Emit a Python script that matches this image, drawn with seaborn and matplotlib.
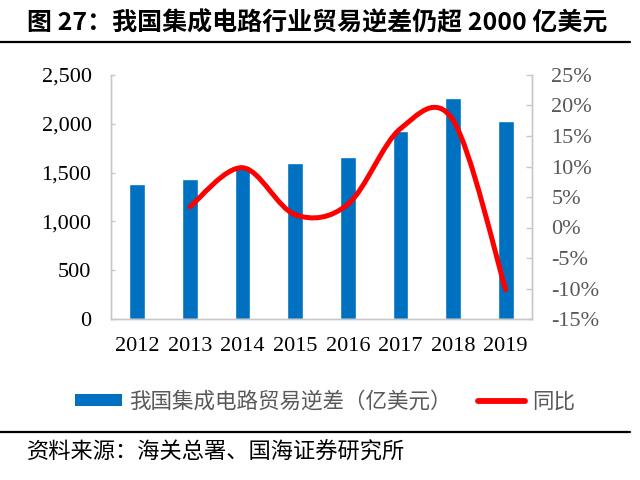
import matplotlib
matplotlib.use('Agg')
import matplotlib.pyplot as plt
import seaborn as sns
import pandas as pd
from matplotlib.path import Path
from matplotlib.patches import PathPatch, Patch
from matplotlib.lines import Line2D
from matplotlib.ticker import FuncFormatter, MultipleLocator

# data
years = ['2012', '2013', '2014', '2015', '2016', '2017', '2018', '2019']
deficit = [1383, 1431, 1568, 1601, 1660, 1926, 2261, 2029]   # 亿美元
yoy_years = ['2013', '2014', '2015', '2016', '2017', '2018', '2019']
yoy = [3.4, 9.8, 2.1, 3.8, 16.2, 17.6, -10.2]                 # %

BLUE = '#0070C0'
RED = '#FF0000'
SPINE = '#C8C8C8'
CJK = ['Noto Sans CJK SC', 'DejaVu Sans']

sns.set_theme(style='white')
plt.rcParams['font.family'] = ['Liberation Serif', 'Noto Sans CJK SC']

df = pd.DataFrame({'year': years, 'deficit': deficit})

fig = plt.figure(figsize=(6.4, 4.8), dpi=100)
ax = fig.add_axes([111 / 640, 1 - 319 / 480, (532 - 111) / 640, (319 - 75) / 480])
sns.barplot(data=df, x='year', y='deficit', color=BLUE, width=0.3, saturation=1, ax=ax)
ax.set_xlim(-0.5, 7.5)
ax.set_ylim(0, 2500)
ax.yaxis.set_major_locator(MultipleLocator(500))
ax.yaxis.set_major_formatter(FuncFormatter(lambda v, p: f'{v:,.0f}'))
ax.set_xlabel('')
ax.set_ylabel('')
ax.tick_params(axis='y', direction='in', length=3, width=1, color=SPINE,
               pad=14, labelsize=16, labelcolor='black')
ax.tick_params(axis='x', length=0, pad=13, labelsize=16, labelcolor='black')

ax2 = ax.twinx()
ax2.set_ylim(-15, 25)
ax2.yaxis.set_major_locator(MultipleLocator(5))
ax2.yaxis.set_major_formatter(FuncFormatter(lambda v, p: f'{v:.0f}%'))
ax2.tick_params(axis='y', direction='in', length=4, width=1, color=SPINE,
                pad=14, labelsize=16, labelcolor='#595959')

for a in (ax, ax2):
    a.spines['top'].set_visible(False)
    for s in ('left', 'right', 'bottom'):
        a.spines[s].set_color(SPINE)
        a.spines[s].set_linewidth(1)

# smoothed yoy line (Excel style Catmull-Rom bezier through the points)
xpos = [years.index(y) for y in yoy_years]
pts = list(zip(xpos, yoy))
verts = [pts[0]]
codes = [Path.MOVETO]
n = len(pts)
for i in range(n - 1):
    p0 = pts[max(i - 1, 0)]
    p1 = pts[i]
    p2 = pts[i + 1]
    p3 = pts[min(i + 2, n - 1)]
    c1 = (p1[0] + (p2[0] - p0[0]) / 6, p1[1] + (p2[1] - p0[1]) / 6)
    c2 = (p2[0] - (p3[0] - p1[0]) / 6, p2[1] - (p3[1] - p1[1]) / 6)
    verts += [c1, c2, p2]
    codes += [Path.CURVE4] * 3
ax2.add_patch(PathPatch(Path(verts, codes), facecolor='none', edgecolor=RED,
                        lw=3.6, capstyle='round', joinstyle='round'))

# title and rules
fig.text(27 / 640, 1 - 23 / 480, '图 27：我国集成电路行业贸易逆差仍超 2000 亿美元',
         family=CJK, fontsize=18, fontweight='bold', va='center', ha='left', color='black')
fig.add_artist(Line2D([0, 630 / 640], [1 - 42 / 480] * 2, color='black', lw=1.6))
fig.add_artist(Line2D([0, 630 / 640], [1 - 432 / 480] * 2, color='black', lw=1.6))

handles = [Patch(facecolor=BLUE, edgecolor='none'),
           Line2D([0], [0], color=RED, lw=4.2, solid_capstyle='round')]
labels = ['我国集成电路贸易逆差（亿美元）', '同比']
leg = fig.legend(handles, labels, loc='center left', bbox_to_anchor=(75 / 640, 1 - 402 / 480),
                 ncol=2, frameon=False, prop={'family': CJK, 'size': 15.5},
                 handlelength=2.2, handleheight=0.48, handletextpad=0.33,
                 columnspacing=1.2, borderpad=0, borderaxespad=0)
for t in leg.get_texts():
    t.set_color('#595959')

fig.text(27 / 640, 1 - 452 / 480, '资料来源：海关总署、国海证券研究所',
         family=CJK, fontsize=16, va='center', ha='left', color='black')

fig.savefig('out.png', dpi=100)
